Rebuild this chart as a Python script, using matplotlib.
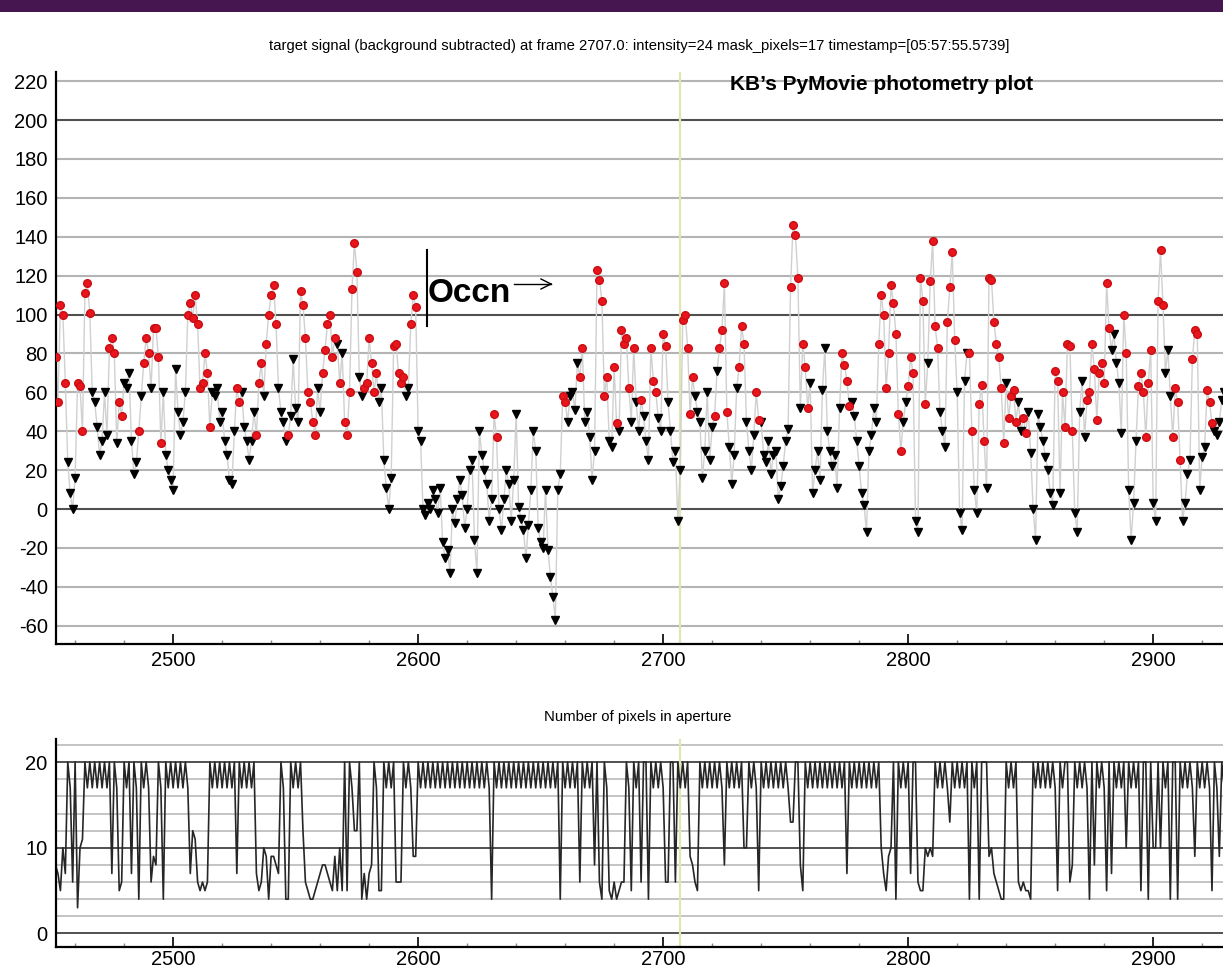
import numpy as np
import matplotlib.pyplot as plt
from matplotlib.patches import Rectangle
from matplotlib.lines import Line2D

plt.rcParams['font.family'] = ['Liberation Sans', 'DejaVu Sans']
plt.rcParams['axes.unicode_minus'] = False

FIRST_FRAME = 2452
CURSOR_FRAME = 2707

# background-subtracted target signal, one value per frame (from 2452)
signal = [
    78, 55, 105, 100, 65, 24, 8, 0, 16, 65,
    63, 40, 111, 116, 101, 60, 55, 42, 28, 35,
    60, 38, 83, 88, 80, 34, 55, 48, 65, 62,
    70, 35, 18, 24, 40, 58, 75, 88, 80, 62,
    93, 93, 78, 34, 60, 28, 20, 15, 10, 72,
    50, 38, 45, 60, 100, 106, 98, 110, 95, 62,
    65, 80, 70, 42, 60, 58, 62, 45, 50, 35,
    28, 15, 13, 40, 62, 55, 60, 42, 35, 25,
    35, 50, 38, 65, 75, 58, 85, 100, 110, 115,
    95, 62, 50, 45, 35, 38, 48, 77, 52, 45,
    112, 105, 88, 60, 55, 45, 38, 62, 50, 70,
    82, 95, 100, 78, 88, 85, 65, 80, 45, 38,
    60, 113, 137, 122, 68, 58, 62, 65, 88, 75,
    60, 70, 55, 62, 25, 11, 0, 16, 84, 85,
    70, 65, 68, 58, 62, 95, 110, 104, 40, 35,
    0, -3, 3, 0, 10, 5, -2, 11, -17, -25,
    -21, -33, 0, -7, 5, 15, 7, -10, 0, 20,
    25, -16, -33, 40, 28, 20, 13, -6, 5, 49,
    37, 0, -11, 5, 20, 13, -6, 15, 49, 1,
    -5, -11, -25, -8, 10, 40, 30, -10, -17, -20,
    10, -21, -35, -45, -57, 10, 18, 58, 55, 45,
    58, 60, 51, 75, 68, 83, 45, 50, 37, 15,
    30, 123, 118, 107, 58, 68, 35, 32, 73, 44,
    40, 92, 85, 88, 62, 45, 83, 55, 40, 56,
    48, 35, 25, 83, 66, 60, 47, 40, 90, 84,
    55, 40, 24, 30, -6, 20, 97, 100, 83, 49,
    68, 58, 50, 45, 16, 30, 60, 25, 42, 48,
    71, 83, 92, 116, 50, 32, 13, 28, 62, 73,
    94, 85, 45, 30, 20, 38, 60, 46, 45, 28,
    24, 35, 18, 28, 30, 5, 12, 22, 35, 41,
    114, 146, 141, 119, 52, 85, 73, 52, 65, 8,
    20, 30, 15, 61, 83, 40, 30, 22, 28, 11,
    52, 80, 74, 66, 53, 55, 48, 35, 22, 8,
    2, -12, 30, 38, 52, 45, 85, 110, 100, 62,
    80, 115, 106, 90, 49, 30, 45, 55, 63, 78,
    70, -6, -12, 119, 107, 54, 75, 117, 138, 94,
    83, 50, 40, 32, 96, 114, 132, 87, 60, -2,
    -11, 66, 80, 80, 40, 10, -2, 54, 64, 35,
    11, 119, 118, 96, 85, 78, 62, 34, 65, 47,
    58, 61, 45, 55, 40, 47, 39, 50, 29, 0,
    -16, 49, 42, 35, 27, 20, 8, 2, 71, 66,
    8, 60, 42, 85, 84, 40, -2, -12, 50, 66,
    37, 56, 60, 85, 72, 46, 70, 75, 65, 116,
    93, 82, 90, 75, 65, 39, 100, 80, 10, -16,
    3, 35, 63, 70, 60, 37, 65, 82, 3, -6,
    107, 133, 105, 70, 82, 58, 37, 62, 55, 25,
    -6, 3, 18, 25, 77, 92, 90, 10, 27, 32,
    61, 55, 44, 40, 38, 45, 56, 60,
]

# marker kind per frame: r = red circle, k = black down-triangle
kind = (
    "rrrrrkkkkr" "rrrrrkkkkk" "kkrrrkrrkk" "kkkkrkrrrk" "rrrrkkkkkk"
    "kkkkrrrrrr" "rrrrkkkkkk" "kkkkrrkkkk" "kkrrrkrrrr" "rkkkkrkkkk"
    "rrrrrrrkkr" "rrrrrkrkrr" "rrrrkkrrrr" "rrkkkkkkrr" "rrrkkrrrkk"
    "kkkkkkkkkk" "kkkkkkkkkk" "kkkkkkkkkr" "rkkkkkkkkk" "kkkkkkkkkk"
    "kkkkkkkrrk" "kkkkrrkkkk" "krrrrrkkrr" "krrrrkrkkr" "kkkrrrkkrr"
    "kkkkkkrrrr" "rkkkkkkkkr" "krrrrkkkkr" "rrkkkkrrkk" "kkkkkkkkkk"
    "rrrrkrrrkk" "kkkkkkkkkk" "krrrrkkkkk" "kkkkkkrrrr" "rrrrrrkkrr"
    "rkkrrrkrrr" "rkkkrrrrkk" "kkkrrkkrrr" "krrrrrrrkr" "rrrkkrrkkk"
    "kkkkkkkkrr" "krrrrrkkkk" "krrrrrrrrr" "rkkkkkrrkk" "kkrrrrrrkk"
    "rrrkkkrrrr" "kkkkrrrkkk" "rrrkkkkk"
)

# number of pixels in the aperture, one value per frame (from 2452)
pixels = [
    8, 7, 5, 10, 7, 20, 17, 6, 20, 3,
    10, 11, 20, 17, 20, 17, 20, 17, 20, 17,
    20, 17, 20, 7, 20, 17, 5, 6, 20, 17,
    20, 7, 20, 17, 4, 20, 17, 20, 17, 6,
    9, 8, 20, 17, 4, 20, 17, 20, 17, 20,
    17, 20, 17, 20, 17, 7, 12, 11, 6, 5,
    6, 5, 6, 20, 17, 20, 17, 20, 17, 20,
    17, 20, 17, 20, 7, 20, 17, 20, 17, 20,
    17, 20, 7, 5, 6, 10, 9, 4, 9, 9,
    8, 7, 20, 17, 4, 4, 20, 17, 20, 17,
    20, 12, 6, 5, 4, 4, 5, 6, 7, 8,
    8, 7, 6, 5, 9, 5, 10, 5, 20, 5,
    20, 17, 12, 12, 20, 4, 7, 4, 7, 8,
    20, 17, 5, 5, 20, 17, 20, 17, 20, 6,
    6, 6, 20, 17, 20, 17, 9, 9, 20, 17,
    20, 17, 20, 17, 20, 17, 20, 17, 20, 17,
    20, 17, 20, 17, 20, 17, 20, 17, 20, 17,
    20, 17, 20, 17, 20, 17, 20, 17, 4, 20,
    17, 20, 17, 20, 17, 20, 17, 20, 17, 20,
    17, 20, 17, 20, 17, 20, 17, 20, 17, 20,
    17, 20, 17, 20, 17, 20, 4, 20, 17, 20,
    17, 20, 17, 20, 6, 20, 17, 20, 17, 20,
    8, 20, 6, 4, 20, 17, 5, 4, 6, 4,
    5, 6, 6, 20, 17, 5, 20, 17, 20, 6,
    20, 20, 4, 20, 17, 20, 17, 20, 17, 6,
    6, 20, 20, 6, 20, 17, 20, 17, 20, 9,
    8, 6, 5, 20, 17, 20, 17, 20, 17, 20,
    17, 20, 17, 8, 20, 17, 20, 17, 20, 17,
    20, 10, 10, 20, 17, 20, 17, 5, 20, 17,
    20, 17, 20, 17, 20, 17, 20, 17, 20, 17,
    13, 13, 20, 20, 8, 5, 20, 17, 20, 17,
    20, 17, 20, 17, 20, 17, 20, 17, 20, 17,
    20, 17, 20, 7, 20, 17, 20, 17, 20, 17,
    20, 17, 20, 17, 20, 17, 20, 10, 7, 5,
    9, 10, 20, 4, 20, 17, 20, 17, 20, 7,
    20, 20, 6, 5, 5, 10, 9, 10, 9, 20,
    17, 20, 17, 20, 17, 13, 20, 17, 20, 17,
    20, 17, 20, 4, 20, 17, 20, 4, 20, 20,
    20, 9, 10, 7, 6, 5, 4, 4, 20, 17,
    20, 17, 20, 6, 5, 6, 5, 5, 4, 20,
    17, 20, 17, 20, 17, 20, 17, 20, 17, 5,
    20, 17, 20, 20, 6, 8, 20, 17, 20, 17,
    20, 17, 4, 20, 8, 20, 17, 20, 17, 5,
    20, 7, 20, 17, 20, 17, 20, 10, 20, 17,
    20, 17, 20, 5, 20, 20, 4, 20, 10, 10,
    20, 10, 20, 17, 20, 4, 20, 20, 4, 20,
    17, 20, 17, 20, 17, 9, 20, 17, 20, 17,
    20, 17, 5, 20, 17, 9, 20, 17,
]

main_title = ("target signal (background subtracted) at frame 2707.0: intensity=24 "
              "mask_pixels=17 timestamp=[05:57:55.5739]")
sub_title = "Number of pixels in aperture"
note_title = "KB\u2019s PyMovie photometry plot"
note_occn = "Occn"

frames = np.arange(FIRST_FRAME, FIRST_FRAME + len(signal))
sig = np.array(signal)
is_red = np.array([c == 'r' for c in kind])

W, H = 1223, 971
fig = plt.figure(figsize=(W / 100, H / 100), dpi=100)
fig.patch.set_facecolor('white')

LIGHT = '#b4b4b4'
DARK = '#505050'
CURSOR = '#e2e5b2'
XLIM = (2452.2, 2928.5)


def style_axes(ax, label_pad):
    for s in ('top', 'right'):
        ax.spines[s].set_visible(False)
    for s in ('left', 'bottom'):
        ax.spines[s].set_linewidth(1.6)
        ax.spines[s].set_color('black')
    ax.set_xlim(*XLIM)
    ax.set_xticks(range(2500, 2901, 100))
    ax.set_xticks([f for f in range(2460, 2929, 20) if f % 100], minor=True)
    ax.tick_params(axis='x', which='major', direction='in', length=7, width=1.2,
                   labelsize=14.5, pad=label_pad)
    ax.tick_params(axis='x', which='minor', direction='in', length=3, width=1, color='#888888')
    ax.tick_params(axis='y', length=0, labelsize=14.5, pad=6)
    ax.axvline(CURSOR_FRAME, color=CURSOR, lw=1.6, zorder=1)


# top panel: signal
ax1 = fig.add_axes([56 / W, 1 - 644 / H, 1 - 56 / W, 572 / H])
style_axes(ax1, 5)
ax1.set_ylim(-69.4, 224.7)
ax1.set_yticks(range(-60, 221, 20))
for y in range(-60, 221, 20):
    ax1.axhline(y, color=DARK if y % 100 == 0 else LIGHT, lw=1.5, zorder=0)
ax1.plot(frames, sig, color='#d0d0d0', lw=1, zorder=2)
ax1.plot(frames[~is_red], sig[~is_red], 'v', color='black', ms=5.2, zorder=3)
ax1.plot(frames[is_red], sig[is_red], 'o', color='#e8151c', mec='#c80d12', ms=5.5, zorder=4)

# bottom panel: pixel count
ax2 = fig.add_axes([56 / W, 1 - 947 / H, 1 - 56 / W, 208 / H])
style_axes(ax2, 2)
ax2.set_ylim(-1.58, 22.7)
ax2.set_yticks([0, 10, 20])
for y in range(0, 23, 2):
    ax2.axhline(y, color=DARK if y % 10 == 0 else '#c4c4c4', lw=1.4, zorder=0)
ax2.plot(frames, pixels, color='#262626', lw=1.2, zorder=2)

# titles
fig.text(639 / W, 1 - 46 / H, main_title, ha='center', va='center', fontsize=10.7)
fig.text(638 / W, 1 - 717 / H, sub_title, ha='center', va='center', fontsize=10.7)

# hand-written annotations
fig.text(730 / W, 1 - 85 / H, note_title, ha='left', va='center',
         fontsize=15, fontweight='bold')
fig.text(428 / W, 1 - 294 / H, note_occn, ha='left', va='center',
         fontsize=24, fontweight='bold')
fig.add_artist(Line2D([427 / W, 427 / W], [1 - 250 / H, 1 - 326 / H], color='black', lw=1.5))
fig.add_artist(Line2D([514 / W, 551 / W], [1 - 284 / H, 1 - 284 / H], color='black', lw=1))
fig.add_artist(Line2D([541 / W, 551 / W], [1 - 279 / H, 1 - 284 / H], color='black', lw=1))
fig.add_artist(Line2D([541 / W, 551 / W], [1 - 289 / H, 1 - 284 / H], color='black', lw=1))

# purple banner on the top edge
fig.add_artist(Rectangle((0, 1 - 12 / H), 1, 12 / H, transform=fig.transFigure,
                         facecolor='#45164f', edgecolor='none'))

fig.savefig('out.png', dpi=100)
